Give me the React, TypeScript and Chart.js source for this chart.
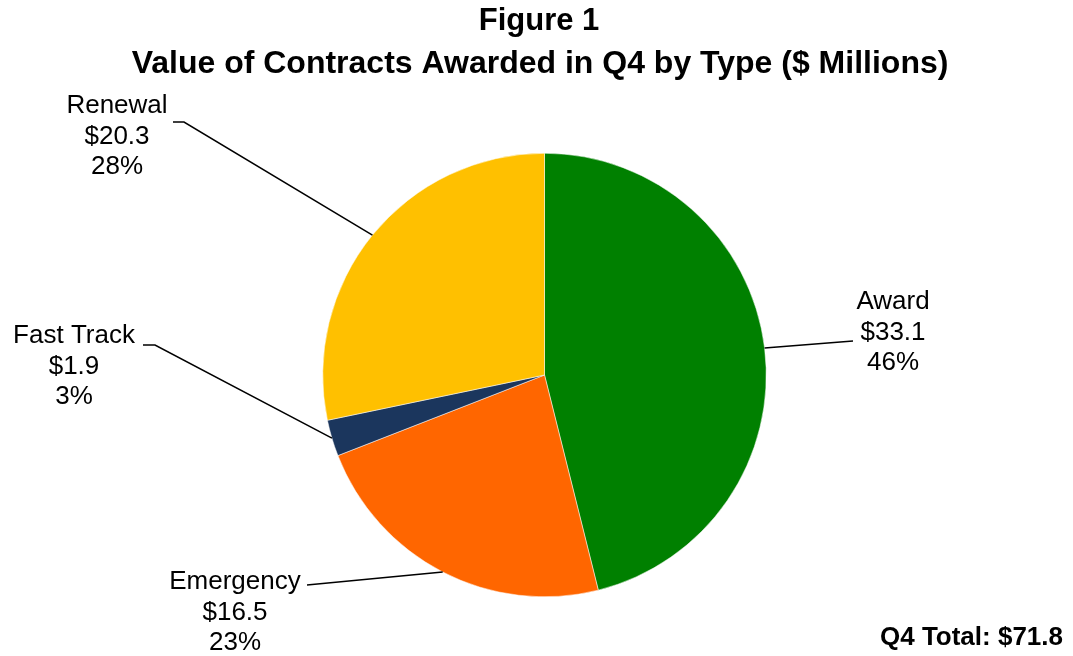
import React, { useEffect, useRef } from "react";
import { Chart, registerables } from "chart.js";

Chart.register(...registerables);

const categories = ["Award", "Emergency", "Fast Track", "Renewal"];
const values = [33.1, 16.5, 1.9, 20.3];
const colors = ["#008000", "#FF6600", "#1B365D", "#FFC000"];
const titleLines = ["Figure 1", "Value of Contracts Awarded in Q4 by Type ($ Millions)"];
const totalLabel = "Q4 Total: $";

// layout: label text centre and leader-line path (text-side points)
const labelLayout = [
  { cx: 893, cy: 302, path: [[853, 341]] },
  { cx: 235, cy: 582, path: [[307, 585]] },
  { cx: 74, cy: 336, path: [[155, 345], [143, 345]] },
  { cx: 117, cy: 106, path: [[184, 122], [173, 122]] },
];

const FONT = '"Liberation Sans", Arial, sans-serif';

const overlayPlugin = {
  id: "overlay",
  afterDraw(chart: any) {
    const ctx = chart.ctx;
    const meta = chart.getDatasetMeta(0);
    const total = values.reduce((a, b) => a + b, 0);
    ctx.save();
    // title
    ctx.fillStyle = "#000";
    ctx.textAlign = "center";
    ctx.textBaseline = "middle";
    ctx.font = `bold 31px ${FONT}`;
    ctx.fillText(titleLines[0], 539, 21);
    ctx.font = `bold 32px ${FONT}`;
    ctx.fillText(titleLines[1], 540, 64);

    // leader lines + labels
    ctx.font = `26px ${FONT}`;
    meta.data.forEach((arc: any, i: number) => {
      const p = arc.getProps(["x", "y", "startAngle", "endAngle", "outerRadius"], true);
      const mid = (p.startAngle + p.endAngle) / 2;
      const ax = p.x + Math.cos(mid) * p.outerRadius;
      const ay = p.y + Math.sin(mid) * p.outerRadius;
      const L = labelLayout[i];
      ctx.beginPath();
      ctx.strokeStyle = "#000";
      ctx.lineWidth = 1.5;
      ctx.moveTo(ax, ay);
      L.path.forEach((pt) => ctx.lineTo(pt[0], pt[1]));
      ctx.stroke();
      const pct = Math.round((values[i] / total) * 100);
      const lines = [categories[i], "$" + values[i].toFixed(1), pct + "%"];
      lines.forEach((t, j) => ctx.fillText(t, L.cx, L.cy + j * 30.5));
    });

    // total
    ctx.font = `bold 26px ${FONT}`;
    ctx.textAlign = "right";
    ctx.fillText(totalLabel + total.toFixed(1), 1063, 638);
    ctx.restore();
  },
};

export default function App() {
  const ref = useRef<HTMLCanvasElement>(null);
  useEffect(() => {
    document.body.style.margin = "0";
    const chart = new Chart(ref.current!, {
      type: "pie",
      data: {
        labels: categories,
        datasets: [
          {
            data: values,
            backgroundColor: colors,
            borderColor: "#ffffff",
            borderWidth: 0.5,
          },
        ],
      },
      options: {
        responsive: false,
        animation: false,
        layout: { padding: { top: 153, bottom: 59, left: 322.5, right: 306.5 } },
        plugins: {
          legend: { display: false },
          tooltip: { enabled: false },
          title: { display: false },
        },
      },
      plugins: [overlayPlugin],
    });
    return () => chart.destroy();
  }, []);
  return (
    <div style={{ position: "absolute", left: 0, top: 0, width: 1073, height: 656, background: "#fff" }}>
      <canvas ref={ref} width={1073} height={656} />
    </div>
  );
}
